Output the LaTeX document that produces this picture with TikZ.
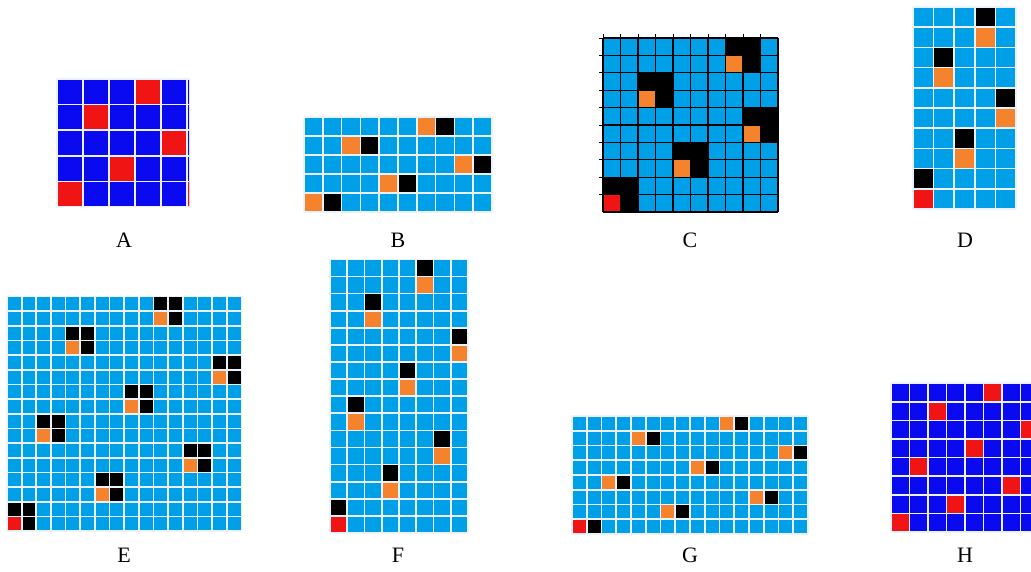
\documentclass[tikz,border=0pt]{standalone}
\usepackage{fontspec}
\setmainfont{Liberation Serif}
\definecolor{skyblue}{RGB}{0,160,233}
\definecolor{deepblue}{RGB}{10,10,240}
\definecolor{cellred}{RGB}{240,20,20}
\definecolor{cellorange}{RGB}{245,130,45}
\definecolor{gridwhite}{RGB}{236,242,252}
\newcommand{\cellrc}[3]{\fill[#3] ({(#1)-1},{\gridrows-(#2)}) rectangle ++(1,1);}
\tikzset{
  whitegrid/.style={draw=gridwhite, line width=1.7pt, step=1},
  blackgrid/.style={draw=black, line width=1.3pt, step=1},
  tick/.style={draw=black, line width=0.8pt},
  lbl/.style={font=\fontsize{22}{22}\selectfont, inner sep=0pt},
}
\begin{document}
\begin{tikzpicture}[x=1pt,y=1pt]
  \clip (0,0) rectangle (1031,571);
  \fill[white] (0,0) rectangle (1031,571);
  % A: 5x5 latin pattern, cropped at the right
  \begin{scope}[shift={(57,364)}, x=26pt, y=25.6pt]
    \def\gridrows{5}
    \clip (-0.1,0) rectangle (5.08,5);
    \fill[deepblue] (0,0) rectangle (6,5);
    \foreach \c/\r in {4/1,2/2,5/3,3/4,1/5,6/5} {\cellrc{\c}{\r}{cellred}}
    \draw[whitegrid] (0,0) grid (6,5);
  \end{scope}
  % B: 10x5, pairs
  \begin{scope}[shift={(304,359)}, x=18.8pt, y=19pt]
    \def\gridrows{5}
    \fill[skyblue] (0,0) rectangle (10,5);
    \foreach \p [count=\r] in {4,2,5,3,1} {
      \cellrc{2*\p-1}{\r}{cellorange}
      \cellrc{2*\p}{\r}{black}
    }
    \draw[whitegrid] (0,0) grid (10,5);
  \end{scope}
  % C: 10x10, 2x2 blocks, black lines with ticks
  \begin{scope}[shift={(603,359)}, x=17.5pt, y=17.4pt]
    \def\gridrows{10}
    \fill[skyblue] (0,0) rectangle (10,10);
    \foreach \s [count=\k] in {8,3,9,5,1} {
      \fill[black] ({\s-1},{10-2*\k}) rectangle ++(2,2);
      \cellrc{\s}{2*\k}{cellorange}
    }
    \cellrc{1}{10}{cellred}
    \draw[blackgrid] (0,0) grid (10,10);
    \foreach \i in {1,...,10} {
      \draw[tick] (-0.22,\i) -- (0,\i);
      \draw[tick] (\i-1,10) -- (\i-1,10.22);
    }
  \end{scope}
  % D: 5x10
  \begin{scope}[shift={(913,362)}, x=20.6pt, y=20.2pt]
    \def\gridrows{10}
    \fill[skyblue] (0,0) rectangle (5,10);
    \foreach \p [count=\k] in {4,2,5,3,1} {
      \cellrc{\p}{2*\k-1}{black}
      \cellrc{\p}{2*\k}{cellorange}
    }
    \cellrc{1}{10}{cellred}
    \draw[whitegrid] (0,0) grid (5,10);
  \end{scope}
  % E: 16x16, 2x2 blocks
  \begin{scope}[shift={(7,40)}, x=14.65pt, y=14.65pt]
    \def\gridrows{16}
    \fill[skyblue] (0,0) rectangle (16,16);
    \foreach \p [count=\k] in {6,3,8,5,2,7,4,1} {
      \fill[black] ({2*\p-2},{16-2*\k}) rectangle ++(2,2);
      \cellrc{2*\p-1}{2*\k}{cellorange}
    }
    \cellrc{1}{16}{cellred}
    \draw[whitegrid] (0,0) grid (16,16);
  \end{scope}
  % F: 8x16
  \begin{scope}[shift={(330,38)}, x=17.25pt, y=17.1pt]
    \def\gridrows{16}
    \fill[skyblue] (0,0) rectangle (8,16);
    \foreach \p [count=\k] in {6,3,8,5,2,7,4,1} {
      \cellrc{\p}{2*\k-1}{black}
      \cellrc{\p}{2*\k}{cellorange}
    }
    \cellrc{1}{16}{cellred}
    \draw[whitegrid] (0,0) grid (8,16);
  \end{scope}
  % G: 16x8
  \begin{scope}[shift={(572,37)}, x=14.75pt, y=14.75pt]
    \def\gridrows{8}
    \fill[skyblue] (0,0) rectangle (16,8);
    \foreach \p [count=\r] in {6,3,8,5,2,7,4,1} {
      \cellrc{2*\p-1}{\r}{cellorange}
      \cellrc{2*\p}{\r}{black}
    }
    \cellrc{1}{8}{cellred}
    \draw[whitegrid] (0,0) grid (16,8);
  \end{scope}
  % H: 8x8 latin pattern, cut by the page edge
  \begin{scope}[shift={(891,39)}, x=18.5pt, y=18.6pt]
    \def\gridrows{8}
    \fill[deepblue] (0,0) rectangle (8,8);
    \foreach \p [count=\r] in {6,3,8,5,2,7,4,1} {\cellrc{\p}{\r}{cellred}}
    \draw[whitegrid] (0,0) grid (8,8);
  \end{scope}
  % labels
  \node[lbl] (labA) at (124,331) {A};
  \node[lbl] (labB) at (398,331) {B};
  \node[lbl] (labC) at (690,331) {C};
  \node[lbl] (labD) at (965,331) {D};
  \node[lbl] (labE) at (124,16) {E};
  \node[lbl] (labF) at (398,16) {F};
  \node[lbl] (labG) at (690,16) {G};
  \node[lbl] (labH) at (965,16) {H};
\end{tikzpicture}
\end{document}
